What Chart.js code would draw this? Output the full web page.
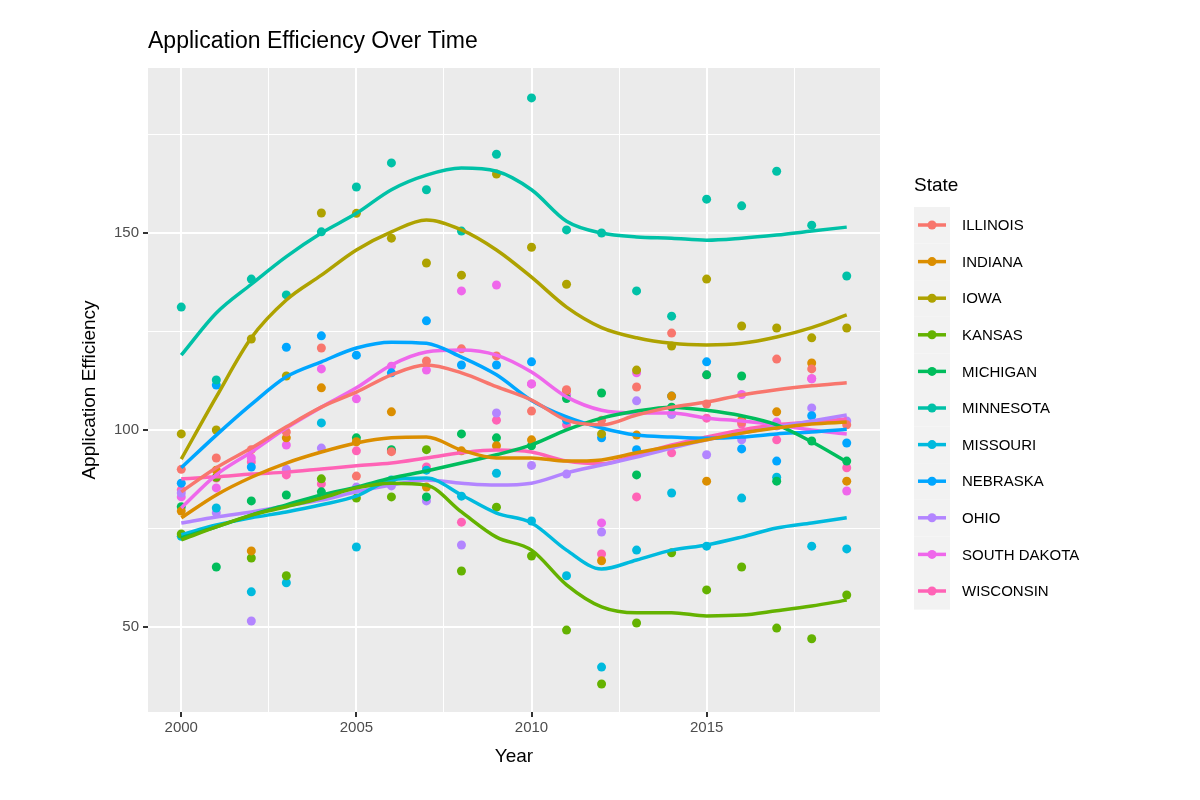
<!DOCTYPE html>
<html>
<head>
<meta charset="utf-8">
<script src="https://cdn.jsdelivr.net/npm/chart.js@4"></script>
<style>
  body { margin: 0; background: #fff; }
  #wrap { width: 1200px; height: 800px; }
</style>
</head>
<body>
<div id="wrap"><canvas id="myChart" width="1200" height="800"></canvas></div>
<script>
var years = [2000,2001,2002,2003,2004,2005,2006,2007,2008,2009,2010,2011,2012,2013,2014,2015,2016,2017,2018,2019];
var states = ["ILLINOIS","INDIANA","IOWA","KANSAS","MICHIGAN","MINNESOTA","MISSOURI","NEBRASKA","OHIO","SOUTH DAKOTA","WISCONSIN"];
var colors = ["#F8766D","#DB8E00","#AEA200","#64B200","#00BD5C","#00C1A7","#00BADE","#00A6FF","#B385FF","#EF67EB","#FF63B6"];

// observed points
var illinois   = [90,92.9,95,99.5,120.8,88.3,94.5,117.5,120.6,118.8,104.8,110.2,102.5,110.9,124.6,106.6,102,118,115.5,101.3];
var indiana    = [79.4,89.8,69.3,98,110.7,97,104.6,85.5,94.7,96,97.5,110,66.8,98.7,108.6,87,102.5,104.6,117,87];
var iowa       = [99,100,123.1,113.7,155.1,155,148.7,142.4,139.3,165,146.4,137,99,115.2,121.3,138.3,126.4,125.9,123.4,125.9];
var kansas     = [73.6,88,67.5,63,87.6,82.7,83,95,64.2,80.4,68,49.2,35.5,51,68.8,59.4,65.2,49.7,47,58.1];
var michigan   = [80.5,65.2,82,83.5,84.3,98,95,83,99,98,96,108,109.4,88.6,105.8,114,113.7,87,97.2,92.1];
var minnesota  = [131.2,112.7,138.3,134.3,150.3,161.7,167.8,161,150.5,170,184.3,150.8,150,135.3,128.9,158.6,156.9,165.7,152,139.1];
var missouri   = [73,80.2,58.9,61.2,101.8,70.3,87.3,89.8,83.2,89,76.9,63,39.8,69.5,84,70.5,82.7,88,70.5,69.8];
var nebraska   = [86.5,111.4,90.6,121,123.9,119,114.5,127.7,116.5,116.5,117.3,102.5,98,95,108.6,117.3,95.2,92.1,103.6,96.7];
var ohio       = [84,79,51.5,90,95.4,85.5,85.8,82,70.8,104.3,91,88.8,74.1,107.4,104,93.7,97.5,101,105.6,102.3];
var southDakota= [83,85.3,92.9,96.2,115.5,107.9,116.2,115.2,135.3,136.8,111.7,109,76.4,114.5,104,114,109,102,113,84.5];
var wisconsin  = [84.8,87.8,91.9,88.6,86.3,94.7,94.7,90.6,76.6,102.5,111.7,101.3,68.5,83,94.2,103,101.5,97.5,113,90.4];

// smoothed trend
var illinoisFit   = [84.3,90.4,95.4,100.8,105.8,109.6,114,116.5,114.5,111,107.6,102.5,101.3,103.8,105.8,107.1,108.9,110.2,111.2,112];
var indianaFit    = [77.7,83.5,88,91.6,94.4,96.7,98,98.2,94.9,92.9,92.9,92.1,92.4,94.2,95.9,97.5,99.2,100.5,101.5,102];
var iowaFit       = [92.6,108.4,123.4,133,139.3,145.7,150.3,153.3,150.8,145.7,138.8,131.2,126,123.4,122,121.6,122,123.6,126,129.2];
var kansasFit     = [72.1,75.4,78.4,80.5,82.7,85.3,86.5,86,79.2,72.8,69.5,60.7,55.1,53.6,53.6,52.8,53,54.1,55.3,56.8];
var michiganFit   = [72.6,75.4,78.4,81,83.5,85.5,87.8,89.6,91.6,93.7,96.2,100,103,104.8,105.8,105,103.6,101.3,97,91.9];
var minnesotaFit  = [119,129.7,137,144,150,155,161,164.7,166.5,165.7,161,153,150,149,148.7,148.2,148.7,149.5,150.5,151.5];
var missouriFit   = [73.4,75.9,77.7,79.2,81,83.2,87.3,87.8,83.5,78.9,76.4,69.5,64.7,67,69.5,70.8,72.8,75.1,76.4,77.7];
var nebraskaFit   = [90.4,98.7,106.5,113.5,117.3,120.8,122.3,122,118.5,114,107.5,103.3,100.5,98.7,98.2,97.9,98.2,99,99.5,100.2];
var ohioFit       = [76.4,77.9,79.2,80.7,82.2,84.3,86,87.3,86.5,86,86.5,89.1,91.1,93.1,95.4,97.5,99.2,100.8,102.3,103.8];
var southDakotaFit= [80.2,88.6,94.4,100.5,105.8,110.7,116.5,119.8,120.3,119,114.7,108.4,105,104.3,104.3,103,102.3,101.3,100,99];
var wisconsinFit  = [87.6,88.1,88.8,89.3,90.1,90.9,91.6,92.9,94.2,94.9,94.4,92.1,91.4,93.7,96.2,98.2,100,101.3,102,102.8];

var points = [illinois,indiana,iowa,kansas,michigan,minnesota,missouri,nebraska,ohio,southDakota,wisconsin];
var fits = [illinoisFit,indianaFit,iowaFit,kansasFit,michiganFit,minnesotaFit,missouriFit,nebraskaFit,ohioFit,southDakotaFit,wisconsinFit];

function pairs(arr){
	return years.map(function(y,i){ return {x:y, y:arr[i]} })
}

var datasets = [];
states.forEach(function(s,i){
	datasets.push({
		type: 'scatter', label: s, data: pairs(points[i]),
		backgroundColor: colors[i], borderWidth: 0, pointRadius: 4.5, order: 2
	});
});
states.forEach(function(s,i){
	datasets.push({
		type: 'line', label: s + ' fit', data: pairs(fits[i]),
		borderColor: colors[i], borderWidth: 3.5, pointRadius: 0,
		cubicInterpolationMode: 'monotone', fill: false, order: 1
	});
});

var FONT = '"Liberation Sans", Arial, sans-serif';

var gg = {
	id: 'gg',
	beforeDraw: function(chart){
		var c = chart.ctx, a = chart.chartArea;
		c.save();
		c.fillStyle = '#EBEBEB';
		c.fillRect(a.left, a.top, a.right - a.left, a.bottom - a.top);
		c.restore();
	},
	afterDraw: function(chart){
		var c = chart.ctx;
		c.save();
		c.fillStyle = '#000';
		c.textBaseline = 'middle';
		c.font = '23px ' + FONT;
		c.fillText('Application Efficiency Over Time', 148, 42);
		// axis titles
		c.font = '19px ' + FONT;
		c.textAlign = 'center';
		c.fillText('Year', 514, 757);
		c.save();
		c.translate(90, 390);
		c.rotate(-Math.PI / 2);
		c.fillText('Application Efficiency', 0, 0);
		c.restore();
		c.textAlign = 'left';
		// legend
		c.fillText('State', 914, 186);
		c.font = '15px ' + FONT;
		states.forEach(function(s,i){
			var y = 225 + i * 36.6;
			c.fillStyle = '#F2F2F2';
			c.fillRect(914, y - 18, 36, 36.6);
			c.strokeStyle = colors[i];
			c.lineWidth = 3.5;
			c.beginPath(); c.moveTo(918, y); c.lineTo(946, y); c.stroke();
			c.fillStyle = colors[i];
			c.beginPath(); c.arc(932, y, 4.5, 0, Math.PI*2); c.fill();
			c.fillStyle = '#000';
			c.fillText(s, 962, y + 1);
		});
		c.restore();
	}
};

function major(v, step){ return Math.abs(v / step - Math.round(v / step)) < 1e-6 }

new Chart(document.getElementById('myChart'), {
	type: 'scatter',
	data: { datasets: datasets },
	plugins: [gg],
	options: {
		responsive: false,
		animation: false,
		layout: { padding: { top: 68, right: 320, left: 0, bottom: 0 } },
		plugins: { legend: {display: false}, tooltip: {enabled: false} },
		scales: {
			x: {
				type: 'linear', min: 1999.05, max: 2019.95,
				afterBuildTicks: function(s){ s.ticks = [2000,2002.5,2005,2007.5,2010,2012.5,2015,2017.5].map(function(v){ return {value:v} }) },
				afterFit: function(s){ s.height = 88 },
				border: { display: false },
				grid: {
					color: '#FFFFFF',
					lineWidth: function(ctx){ return major(ctx.tick.value, 5) ? 2 : 1 },
					tickColor: function(ctx){ return major(ctx.tick.value, 5) ? '#333333' : 'rgba(0,0,0,0)' },
					tickLength: 5
				},
				ticks: {
					autoSkip: false, maxRotation: 0, color: '#4D4D4D', padding: 2,
					font: { size: 15, family: FONT },
					callback: function(v){ return major(v, 5) ? String(v) : '' }
				}
			},
			y: {
				min: 28.4, max: 191.9,
				afterBuildTicks: function(s){ s.ticks = [50,75,100,125,150,175].map(function(v){ return {value:v} }) },
				afterFit: function(s){ s.width = 148 },
				border: { display: false },
				grid: {
					color: '#FFFFFF',
					lineWidth: function(ctx){ return major(ctx.tick.value, 50) ? 2 : 1 },
					tickColor: function(ctx){ return major(ctx.tick.value, 50) ? '#333333' : 'rgba(0,0,0,0)' },
					tickLength: 5
				},
				ticks: {
					autoSkip: false, color: '#4D4D4D', padding: 4,
					font: { size: 15, family: FONT },
					callback: function(v){ return major(v, 50) ? String(v) : '' }
				}
			}
		}
	}
});
</script>
</body>
</html>
